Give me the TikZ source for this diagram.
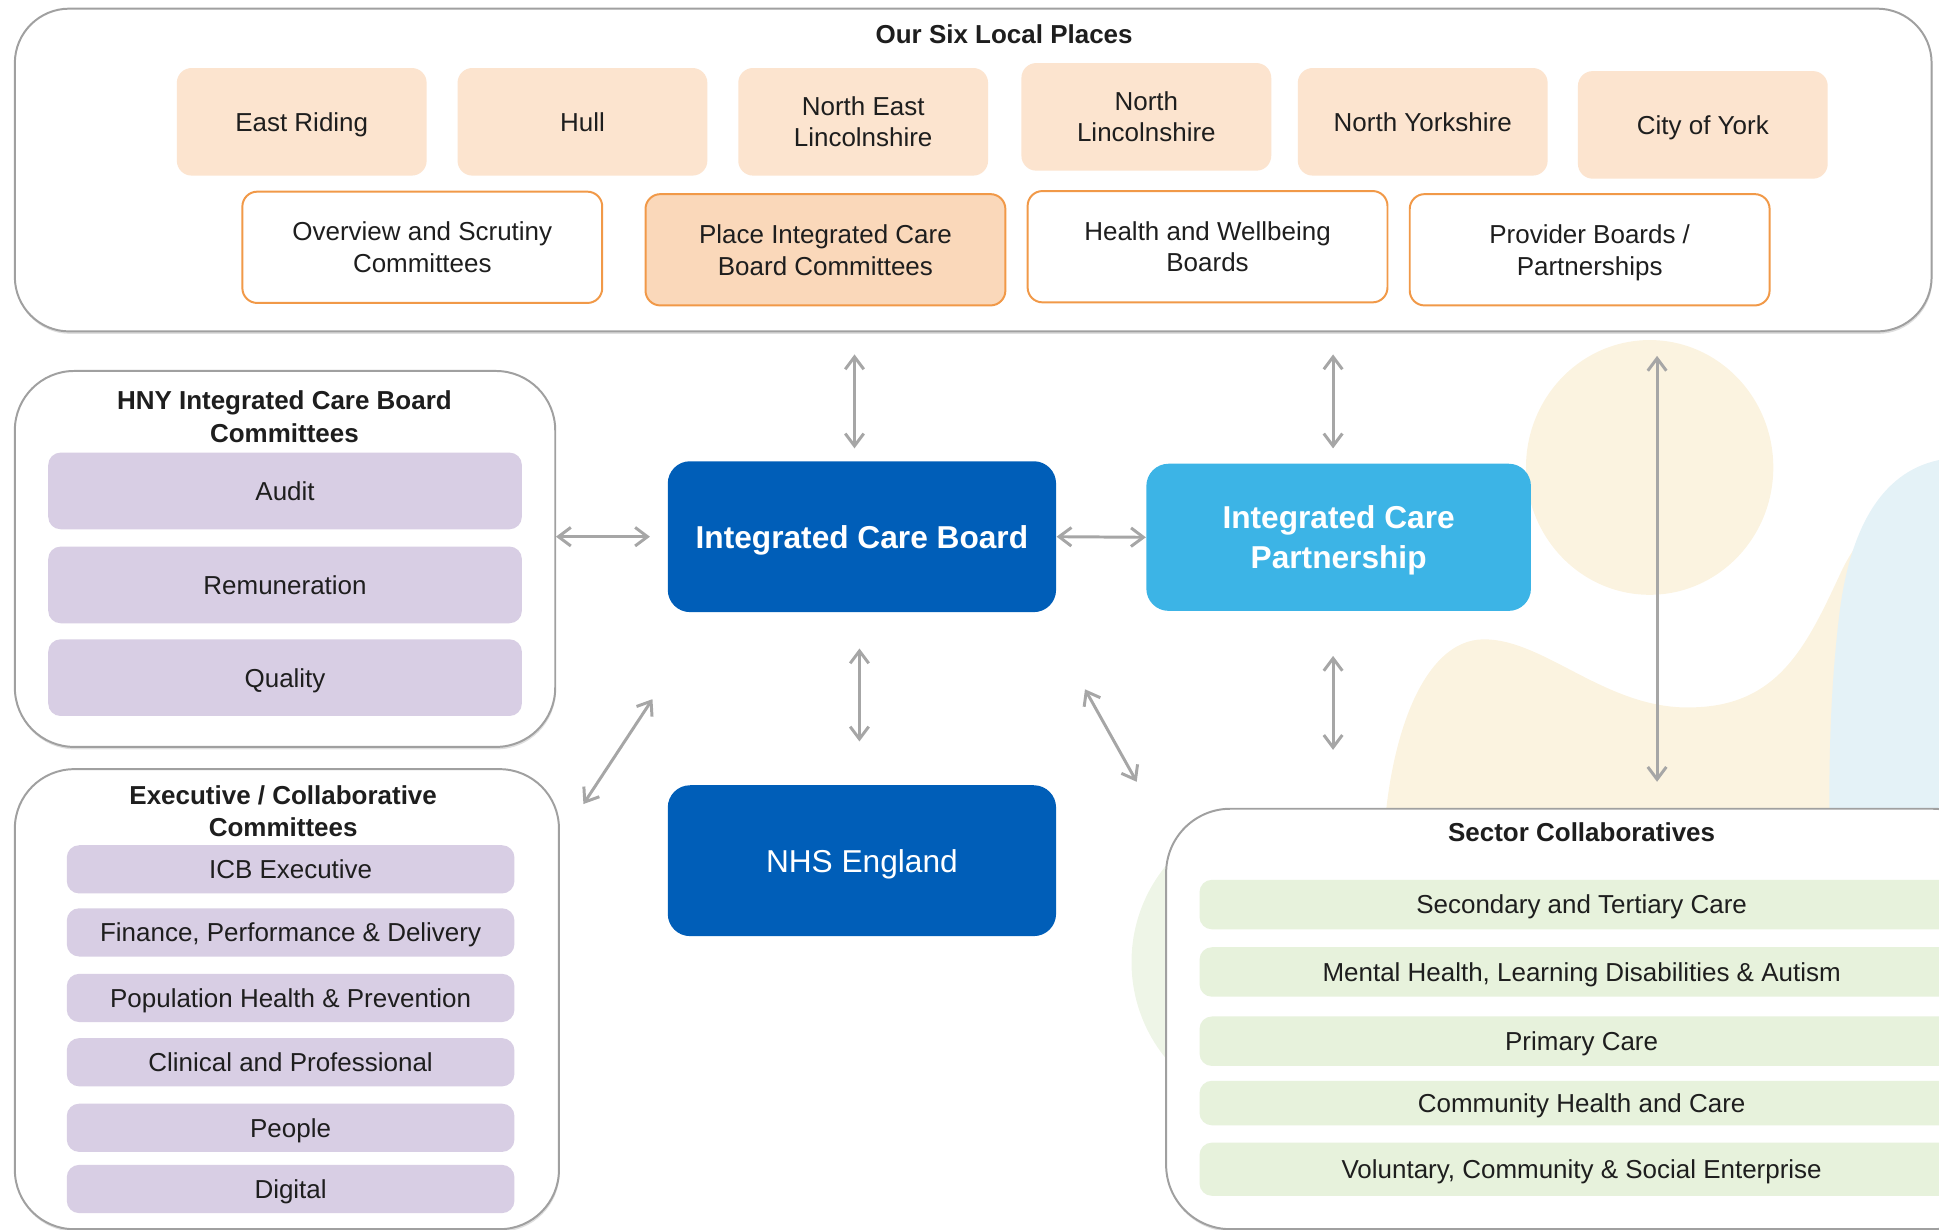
\documentclass[tikz,border=0pt]{standalone}
\usepackage{fontspec}
\setmainfont{Liberation Sans}
\usetikzlibrary{arrows.meta,calc,shadows}
\definecolor{peach}{RGB}{252,228,207}
\definecolor{peachD}{RGB}{250,216,186}
\definecolor{orangeB}{RGB}{241,153,72}
\definecolor{lav}{RGB}{216,206,228}
\definecolor{grn}{RGB}{231,242,220}
\definecolor{nhsblue}{RGB}{0,94,184}
\definecolor{icpblue}{RGB}{60,180,230}
\definecolor{arrgray}{RGB}{166,166,166}
\definecolor{boxgray}{RGB}{160,160,160}
\definecolor{txt}{RGB}{30,30,30}
\definecolor{blobY}{RGB}{251,243,224}
\definecolor{blobB}{RGB}{228,242,247}
\definecolor{blobG}{RGB}{238,245,231}
\begin{document}
\begin{tikzpicture}[x=0.5pt,y=-0.5pt,
 font=\fontsize{10.5}{12.8}\selectfont, text=txt,
 container/.style={draw=boxgray, line width=0.8pt, fill=white, rounded corners=22pt, inner sep=0pt,
   drop shadow={shadow xshift=0.3pt, shadow yshift=-1pt, opacity=0.25}},
 place/.style={fill=peach, rounded corners=6pt, minimum width=101pt, minimum height=43.5pt, align=center, inner sep=0pt},
 forum/.style={draw=orangeB, line width=0.8pt, fill=white, rounded corners=6pt, minimum width=145.5pt, minimum height=45pt, align=center, inner sep=0pt},
 lavbox/.style={fill=lav, rounded corners=5pt, inner sep=0pt, text depth=0pt},
 grnbox/.style={fill=grn, rounded corners=5pt, inner sep=0pt, minimum width=309pt, text depth=0pt},
 bluebox/.style={fill=nhsblue, rounded corners=9pt, minimum width=157pt, minimum height=61pt, text=white, align=center, font=\fontsize{12.8}{16}\selectfont, inner sep=0pt, text depth=-2pt},
 titletext/.style={font=\fontsize{10.5}{13}\selectfont\bfseries, align=center},
 arr/.style={arrgray, line width=1.2pt, {Straight Barb[length=5pt,width=7.5pt]}-{Straight Barb[length=5pt,width=7.5pt]}}
]
\useasboundingbox (0,0) rectangle (1568,994);
\clip (0,0) rectangle (1568,994);
% background blobs
\fill[blobY] (1334,378) ellipse [x radius=100, y radius=103];
\fill[blobY] (1115,1000) -- (1118,700) .. controls (1120,600) and (1150,517) .. (1200,517)
  .. controls (1250,517) and (1300,575) .. (1370,572)
  .. controls (1440,570) and (1462,520) .. (1490,460)
  .. controls (1510,420) and (1540,400) .. (1600,395) -- (1600,1000) -- cycle;
\fill[blobB] (1600,368) -- (1568,372) .. controls (1520,382) and (1495,430) .. (1487,500)
  .. controls (1480,560) and (1478,620) .. (1480,720) -- (1600,720) -- cycle;
\fill[blobG] (1038,778) circle [radius=123];
% containers
\node[container, minimum width=775pt, minimum height=130.5pt] (top) at (787,137.5) {};
\node[container, rounded corners=24pt, minimum width=218.5pt, minimum height=152pt] (hny) at (230.5,452) {};
\node[container, rounded corners=24pt, minimum width=220pt, minimum height=186pt] (exec) at (232,808) {};
\node[container, rounded corners=26pt, minimum width=336pt, minimum height=170pt] (sector) at (1279,824) {};
% top box
\node[titletext] (toptitle) at (812,28) {Our Six Local Places};
\node[place, text depth=0pt] (er) at (244,98.5) {East Riding};
\node[place, text depth=0pt] (hull) at (471,98.5) {Hull};
\node[place] (nel) at (698,98.5) {North East\\Lincolnshire};
\node[place] (nl) at (927,94.5) {North\\Lincolnshire};
\node[place, text depth=0pt] (ny) at (1150.5,98.5) {North Yorkshire};
\node[place, text depth=0pt] (york) at (1377,101) {City of York};
\node[forum, text depth=-2pt] (osc) at (341.5,200) {Overview and Scrutiny\\Committees};
\node[forum, fill=peachD, text depth=-2pt] (picb) at (667.5,202) {Place Integrated Care\\Board Committees};
\node[forum] (hwb) at (976.5,199.5) {Health and Wellbeing\\Boards};
\node[forum, text depth=-2pt] (pbp) at (1285.5,202) {Provider Boards /\\Partnerships};
% HNY committees
\node[titletext] (hnyt) at (230,337) {HNY Integrated Care Board\\Committees};
\node[lavbox, minimum width=191.5pt, minimum height=31pt] (audit) at (230.5,397) {Audit};
\node[lavbox, minimum width=191.5pt, minimum height=31pt] (rem) at (230.5,473) {Remuneration};
\node[lavbox, minimum width=191.5pt, minimum height=31pt] (qual) at (230.5,548) {Quality};
% Executive committees
\node[titletext] (exect) at (229,656) {Executive / Collaborative\\Committees};
\node[lavbox, minimum width=181pt, minimum height=19.5pt] (icbe) at (235,703) {ICB Executive};
\node[lavbox, minimum width=181pt, minimum height=19.5pt] (fpd) at (235,754) {Finance, Performance \& Delivery};
\node[lavbox, minimum width=181pt, minimum height=19.5pt] (php) at (235,807) {Population Health \& Prevention};
\node[lavbox, minimum width=181pt, minimum height=19.5pt] (cap) at (235,859) {Clinical and Professional};
\node[lavbox, minimum width=181pt, minimum height=19.5pt] (ppl) at (235,912) {People};
\node[lavbox, minimum width=181pt, minimum height=19.5pt] (dig) at (235,961.5) {Digital};
% central boards
\node[bluebox, font=\fontsize{12.8}{16}\selectfont\bfseries] (icb) at (697,434) {Integrated Care Board};
\node[bluebox, fill=icpblue, minimum width=155.5pt, minimum height=59.5pt, text depth=-1pt, font=\fontsize{12.8}{16}\selectfont\bfseries] (icp) at (1082.5,434.5) {Integrated Care\\Partnership};
\node[bluebox] (nhs) at (697,696) {NHS England};
% sector collaboratives
\node[titletext] (sectt) at (1279,673) {Sector Collaboratives};
\node[grnbox, minimum height=20pt] (stc) at (1279,731.5) {Secondary and Tertiary Care};
\node[grnbox, minimum height=20pt] (mhl) at (1279,786) {Mental Health, Learning Disabilities \& Autism};
\node[grnbox, minimum height=20pt] (pc) at (1279,842) {Primary Care};
\node[grnbox, minimum height=18pt] (chc) at (1279,892) {Community Health and Care};
\node[grnbox, minimum height=21.5pt] (vcs) at (1279,945.5) {Voluntary, Community \& Social Enterprise};
% connectors
\draw[arr] ($(icb.north)+(-6,-10)$) -- ($(icb.north)+(-6,-86)$);
\draw[arr] ($(icp.north)+(-4.5,-12)$) -- ($(icp.north)+(-4.5,-88)$);
\draw[arr] ($(sector.north)+(61,-21)$) -- ($(top.south)+(553,19)$);
\draw[arr] ($(icb.west)+(-14,0)$) -- ($(icb.west)+(-90,0)$);
\draw[arr] (icb.east) -- (icp.west);
\draw[arr] ($(icb.south)+(-2,29)$) -- ($(nhs.north)+(-2,-35)$);
\draw[arr] ($(icp.south)+(-4.5,36)$) -- ($(icp.south)+(-4.5,112)$);
\draw[arr] ($(icb.south west)+(-12,70)$) -- ($(exec.north east)+(19,29)$);
\draw[arr] ($(icb.south east)+(23,62)$) -- ($(sector.north west)+(-23,-21)$);
\end{tikzpicture}
\end{document}
